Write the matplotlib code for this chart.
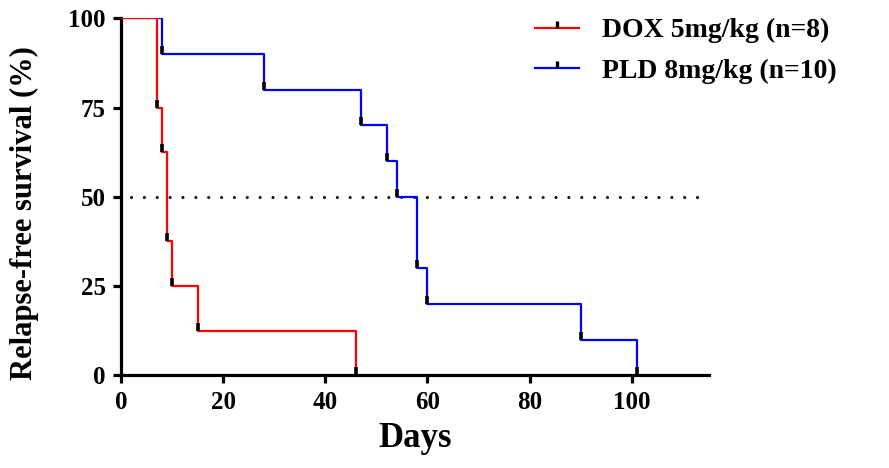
import numpy as np
import matplotlib.pyplot as plt
from matplotlib.path import Path

# Kaplan-Meier data (days, survival %)
dox_t = [0, 7, 8, 9, 10, 15, 46]
dox_s = [100, 75, 62.5, 37.5, 25, 12.5, 0]
pld_t = [0, 8, 28, 47, 52, 54, 58, 60, 90, 101]
pld_s = [100, 90, 80, 70, 60, 50, 30, 20, 10, 0]

plt.rcParams['font.family'] = ['Liberation Serif', 'DejaVu Serif']
plt.rcParams['font.weight'] = 'bold'

# short black tick pointing up from each event
up_tick = Path([(0, 0), (0, 1)], [Path.MOVETO, Path.LINETO])

fig = plt.figure(figsize=(8.89, 4.68), dpi=100)
ax = fig.add_axes([0.136, 0.198, 0.661, 0.763])

ax.plot([2, 115], [50, 50], color='black', linestyle=(0, (0.01, 4.2)), linewidth=2.2,
        dash_capstyle='round', zorder=1)

series = [(pld_t, pld_s, '#0000ff', 'PLD 8mg/kg (n=10)', 3),
          (dox_t, dox_s, '#ff0000', 'DOX 5mg/kg (n=8)', 4)]
for t, s, col, lab, z in series:
    ax.step(t, s, where='post', color=col, linewidth=1.6, zorder=z)
    ax.plot(t[1:], s[1:], linestyle='none', marker=up_tick, markersize=11,
            markeredgecolor='black', markeredgewidth=2.6, zorder=5)

# legend handles (DOX first)
for t, s, col, lab, z in series[::-1]:
    ax.plot([], [], color=col, linewidth=1.6, marker=up_tick, markersize=10,
            markeredgecolor='black', markeredgewidth=2.4, label=lab)

ax.set_xlim(0, 115)
ax.set_ylim(0, 100)
ax.set_xticks([0, 20, 40, 60, 80, 100])
ax.set_yticks([0, 25, 50, 75, 100])
for sp in ['top', 'right']:
    ax.spines[sp].set_visible(False)
for sp in ['left', 'bottom']:
    ax.spines[sp].set_linewidth(2.3)
ax.tick_params(width=2.3, length=6, labelsize=18, pad=5)

ax.set_xlabel('Days', fontsize=25, fontweight='bold', labelpad=6)
ax.set_ylabel('Relapse-free survival (%)', fontsize=22, fontweight='bold')
ax.yaxis.set_label_coords(-0.14, 0.455)

fig.legend(loc='upper left', bbox_to_anchor=(535 / 889, 1 - 18 / 468), frameon=False,
           fontsize=20, borderpad=0, borderaxespad=0,
           handlelength=1.6, handletextpad=0.8, labelspacing=0.53)

fig.savefig('out.png', dpi=100)
